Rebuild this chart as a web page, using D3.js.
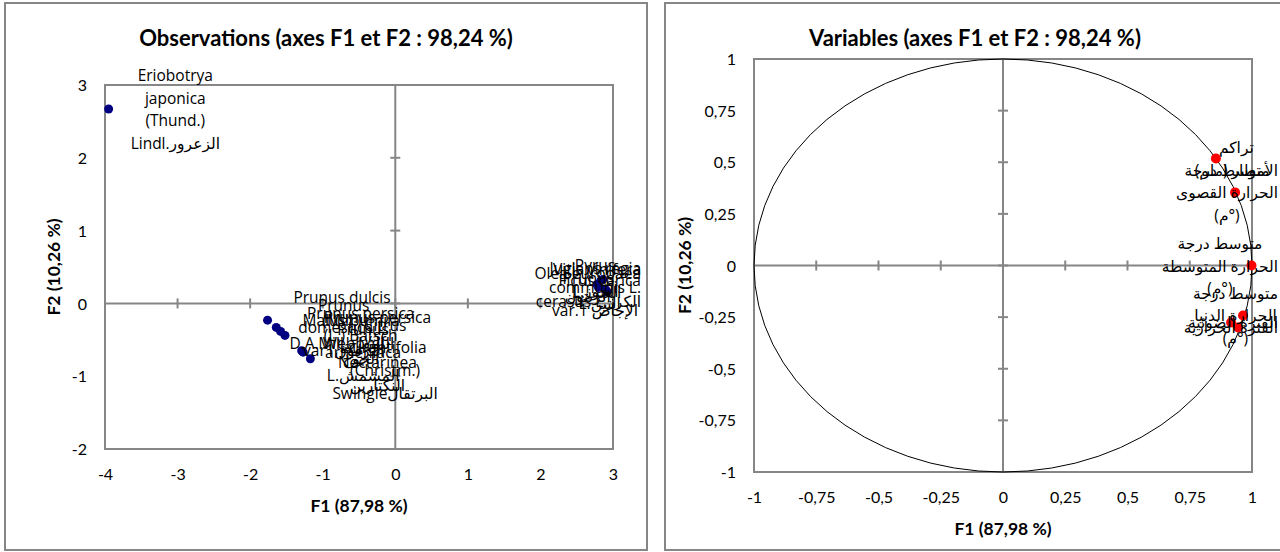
<!DOCTYPE html>
<html>
<head>
<meta charset="utf-8">
<script src="https://cdn.jsdelivr.net/npm/d3@7/dist/d3.min.js"></script>
<style>
    body { margin: 0; background: #fff; }
    svg { display: block; }
    .title { font-family: Lato, "Open Sans", sans-serif; font-weight: bold; font-size: 22px; fill: #000; }
    .axis-title { font-family: Lato, "Open Sans", sans-serif; font-weight: bold; font-size: 17.5px; fill: #000; }
    .tick-label { font-family: Lato, "Open Sans", sans-serif; font-size: 16px; fill: #000; }
    .pt-label { font-family: "Open Sans", "DejaVu Sans", sans-serif; font-size: 15.5px; fill: #000; }
</style>
</head>
<body>
<svg id="chart" width="1280" height="552"></svg>
<script>
    // observations (left chart)
    let obsNames = [
        "Eriobotrya\njaponica\n(Thund.)\nLindl.الزعرور",
        "Prunus dulcis\n(Mill.)\nD.A. Webbاللوز",
        "Prunus\ndomestica L.\nvar1البرقوق",
        "Malus pumila\nMill.التفاح",
        "Prunus persica\n(L.) Batsch\nالخوخ",
        "Prunus\narmeniaca\nL.المشمش",
        "Prunus persica\nvar.\nNectarinea\nالنكتارين",
        "Citrus\naurantifolia\n(Christm.)\nSwingleالبرتقال",
        "Pyrus\ncommunis L.\nvar.1 الإجاص",
        "Olea europaea\nالزيتون",
        "Vitis vinifera\nL.العنب",
        "Juglans regia\nL.الجوز",
        "Prunus\ncerasus L.الكرز",
        "Ficus carica\nL.التين"
    ]
    let obsF1 = [-3.95, -1.76, -1.64, -1.58, -1.52, -1.27, -1.29, -1.17, 2.80, 2.78, 2.83, 2.86, 2.90, 2.92]
    let obsF2 = [2.67, -0.23, -0.33, -0.385, -0.44, -0.67, -0.65, -0.76, 0.22, 0.26, 0.31, 0.33, 0.19, 0.16]

    // variables (right chart)
    let varNames = [
        "تراكم\nالأمطار (ملم)",
        "متوسط درجة\nالحرارة القصوى\n(°م)",
        "متوسط درجة\nالحرارة المتوسطة\n(°م)",
        "متوسط درجة\nالحرارة الدنيا\n(°م)",
        "الفترة الضوئية",
        "الفترة الحرارية"
    ]
    let varF1 = [0.855, 0.932, 0.998, 0.964, 0.916, 0.944]
    let varF2 = [0.518, 0.354, 0.0, -0.242, -0.276, -0.300]

    let obsTicksX = [-4, -3, -2, -1, 0, 1, 2, 3]
    let obsTicksY = [-2, -1, 0, 1, 2, 3]
    let varTicks = [-1, -0.75, -0.5, -0.25, 0, 0.25, 0.5, 0.75, 1]

    let titleObs = "Observations (axes F1 et F2 : 98,24 %)"
    let titleVar = "Variables (axes F1 et F2 : 98,24 %)"
    let xTitle = "F1 (87,98 %)"
    let yTitle = "F2 (10,26 %)"

    let gray = "#868686"
    let svg = d3.select("#chart")

    let frCom = d => String(d).replace(".", ",")

    function isArabic(line) {
        let m = line.match(/[A-Za-z\u0600-\u06FF]/)
        return m && /[\u0600-\u06FF]/.test(m[0])
    }

    function drawPanel(cfg) {
        let { box, plot, xDomain, yDomain, xTicks, yTicks, title, labelRight } = cfg

        let xScale = d3.scaleLinear().domain(xDomain).range([plot.left, plot.right])
        let yScale = d3.scaleLinear().domain(yDomain).range([plot.bottom, plot.top])

        let g = svg.append("g")

        // chart box
        g.append("rect")
            .attr("x", box.x).attr("y", box.y)
            .attr("width", box.w).attr("height", box.h)
            .attr("fill", "#fff").attr("stroke", gray).attr("stroke-width", 2)

        // plot frame
        g.append("rect")
            .attr("x", plot.left).attr("y", plot.top)
            .attr("width", plot.right - plot.left).attr("height", plot.bottom - plot.top)
            .attr("fill", "none").attr("stroke", gray).attr("stroke-width", 2)

        // zero axes
        g.append("line")
            .attr("x1", plot.left).attr("x2", plot.right)
            .attr("y1", yScale(0)).attr("y2", yScale(0))
            .attr("stroke", gray).attr("stroke-width", 2)
        g.append("line")
            .attr("x1", xScale(0)).attr("x2", xScale(0))
            .attr("y1", plot.top).attr("y2", plot.bottom)
            .attr("stroke", gray).attr("stroke-width", 2)

        g.selectAll(".xt").data(xTicks).enter().append("line")
            .attr("x1", d => xScale(d)).attr("x2", d => xScale(d))
            .attr("y1", yScale(0) - 5).attr("y2", yScale(0) + 5)
            .attr("stroke", gray).attr("stroke-width", 2)
        g.selectAll(".yt").data(yTicks).enter().append("line")
            .attr("x1", xScale(0) - 5).attr("x2", xScale(0) + 5)
            .attr("y1", d => yScale(d)).attr("y2", d => yScale(d))
            .attr("stroke", gray).attr("stroke-width", 2)

        // tick labels through d3 axes
        let xAxis = d3.axisBottom(xScale).tickValues(xTicks).tickSize(0).tickPadding(0).tickFormat(frCom)
        let yAxis = d3.axisLeft(yScale).tickValues(yTicks).tickSize(0).tickPadding(0).tickFormat(frCom)

        let gx = g.append("g").attr("transform", `translate(0,${plot.bottom + 25})`).call(xAxis)
        let gy = g.append("g").attr("transform", `translate(${plot.left - 18},0)`).call(yAxis)
        for (let a of [gx, gy]) {
            a.select(".domain").remove()
            a.attr("font-family", null).attr("font-size", null)
            a.selectAll("text").attr("class", "tick-label").attr("dy", "0.35em").attr("y", 0)
        }

        // titles
        g.append("text").attr("class", "title")
            .attr("x", box.x + box.w / 2).attr("y", 37)
            .attr("text-anchor", "middle").attr("dominant-baseline", "central")
            .text(title)
        g.append("text").attr("class", "axis-title")
            .attr("x", (plot.left + plot.right) / 2).attr("y", cfg.xTitleY)
            .attr("text-anchor", "middle").attr("dominant-baseline", "central")
            .text(xTitle)
        g.append("text").attr("class", "axis-title")
            .attr("transform", `translate(${cfg.yTitleX},${(plot.top + plot.bottom) / 2}) rotate(-90)`)
            .attr("text-anchor", "middle").attr("dominant-baseline", "central")
            .text(yTitle)

        return { g, xScale, yScale, labelRight }
    }

    function drawLabels(panel, names, xs, ys) {
        let { g, xScale, yScale, labelRight } = panel
        names.forEach((name, i) => {
            let px = xScale(xs[i])
            let py = yScale(ys[i])
            let lines = name.split("\n")
            let texts = lines.map((line, j) => {
                let t = g.append("text").attr("class", "pt-label")
                    .attr("text-anchor", "middle")
                    .attr("dominant-baseline", "central")
                    .attr("direction", isArabic(line) ? "rtl" : "ltr")
                    .attr("y", py + (j - (lines.length - 1) / 2) * 22.7)
                    .text(line)
                return t
            })
            let w = d3.max(texts, t => t.node().getComputedTextLength())
            let left = Math.min(px + 22, labelRight - w)
            texts.forEach(t => t.attr("x", left + w / 2))
        })
    }

    let obsPanel = drawPanel({
        box: { x: 5, y: 3, w: 642, h: 547 },
        plot: { left: 105, right: 613, top: 85, bottom: 449 },
        xDomain: [-4, 3], yDomain: [-2, 3],
        xTicks: obsTicksX, yTicks: obsTicksY,
        title: titleObs,
        xTitleY: 505, yTitleX: 53,
        labelRight: 641
    })

    obsPanel.g.selectAll(".obs").data(obsF1).enter().append("circle")
        .attr("cx", d => obsPanel.xScale(d))
        .attr("cy", (d, i) => obsPanel.yScale(obsF2[i]))
        .attr("r", 4.5)
        .attr("fill", "#000080")
    drawLabels(obsPanel, obsNames, obsF1, obsF2)

    let varPanel = drawPanel({
        box: { x: 665, y: 3, w: 620, h: 547 },
        plot: { left: 754, right: 1252, top: 59, bottom: 472 },
        xDomain: [-1, 1], yDomain: [-1, 1],
        xTicks: varTicks, yTicks: varTicks,
        title: titleVar,
        xTitleY: 528, yTitleX: 684,
        labelRight: 1278
    })

    // correlation circle
    varPanel.g.append("ellipse")
        .attr("cx", varPanel.xScale(0)).attr("cy", varPanel.yScale(0))
        .attr("rx", varPanel.xScale(1) - varPanel.xScale(0))
        .attr("ry", varPanel.yScale(0) - varPanel.yScale(1))
        .attr("fill", "none").attr("stroke", "#000").attr("stroke-width", 1)

    varPanel.g.selectAll(".var").data(varF1).enter().append("circle")
        .attr("cx", d => varPanel.xScale(d))
        .attr("cy", (d, i) => varPanel.yScale(varF2[i]))
        .attr("r", 5)
        .attr("fill", "#ff0000")
    drawLabels(varPanel, varNames, varF1, varF2)
</script>
</body>
</html>
